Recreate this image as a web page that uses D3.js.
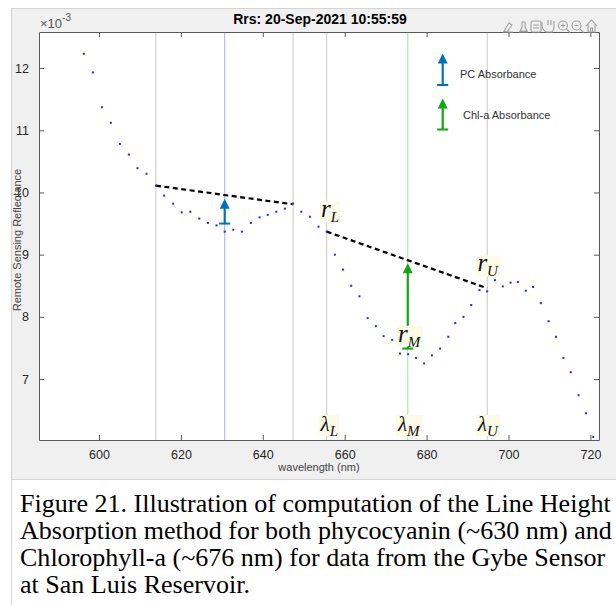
<!DOCTYPE html>
<html>
<head>
<meta charset="utf-8">
<script src="https://cdn.jsdelivr.net/npm/d3@7"></script>
<style>
  body { margin: 0; background: #fff; }
  svg { display: block; }
</style>
</head>
<body>
<svg width="616" height="605"></svg>
<script>
// spectrum (Rrs in units of 1e-3)
var wavelengths = [596.3, 598.5, 600.7, 602.9, 605.1, 607.3, 609.4, 611.6, 613.9, 615.9,
  618.1, 620.2, 622.3, 624.5, 626.6, 628.7, 630.7, 632.8, 634.9, 637.1,
  639.2, 641.2, 643.3, 645.4, 647.4, 649.4, 651.5, 653.6, 655.6, 657.6,
  659.6, 661.6, 663.6, 665.6, 667.6, 669.5, 671.6, 673.5, 675.5, 677.4,
  679.4, 681.3, 683.3, 685.3, 687.0, 689.0, 690.9, 692.9, 694.8, 696.7,
  698.6, 700.5, 702.3, 704.2, 706.0, 707.9, 709.8, 711.6, 713.4, 715.2,
  717.1, 718.9, 720.7];
var rrs = [12.23, 11.93, 11.37, 11.12, 10.78, 10.61, 10.39, 10.30, 10.11, 9.95,
  9.82, 9.68, 9.69, 9.58, 9.51, 9.47, 9.37, 9.40, 9.37, 9.51,
  9.60, 9.64, 9.69, 9.74, 9.82, 9.69, 9.61, 9.45, 9.37, 9.00,
  8.76, 8.50, 8.33, 7.98, 7.85, 7.69, 7.63, 7.41, 7.40, 7.34,
  7.25, 7.38, 7.49, 7.68, 7.90, 8.00, 8.19, 8.43, 8.41, 8.59,
  8.49, 8.55, 8.56, 8.42, 8.48, 8.22, 7.93, 7.68, 7.34, 7.11,
  6.74, 6.45, 6.07];

var xTicks = [600, 620, 640, 660, 680, 700, 720];
var yTicks = [7, 8, 9, 10, 11, 12];

var greyMarkers = [613.9, 647.4, 655.6, 694.8];
var pcMarker = 630.7;
var chlMarker = 675.4;

var pcBaseWl = [613.9, 647.3], pcBaseVal = [10.11, 9.81];
var chlBaseWl = [655.6, 694.8], chlBaseVal = [9.37, 8.46];

var pcArrow = {wl: 630.7, from: 9.50, to: 9.90};
var chlArrow = {wl: 675.4, from: 7.49, to: 8.86};

var rLabels = [{sub: "L", wl: 654.2, val: 9.60}, {sub: "M", wl: 673.0, val: 7.60}, {sub: "U", wl: 692.4, val: 8.73}];
var lambdaLabels = [{sub: "L", wl: 654.1}, {sub: "M", wl: 673.0}, {sub: "U", wl: 692.5}];

var captionLines = [
  "Figure 21. Illustration of computation of the Line Height",
  "Absorption method for both phycocyanin (~630 nm) and",
  "Chlorophyll-a (~676 nm) for data from the Gybe Sensor",
  "at San Luis Reservoir."
];

var svg = d3.select("svg");
var sans = "'Liberation Sans', Arial, Helvetica, sans-serif";
var serif = "'Liberation Serif', 'Times New Roman', serif";
var axisCol = "#5a5a5a", textCol = "#262626";
var pcCol = "#0072BD", chlCol = "#11a611";

// figure panel
svg.append("rect").attr("x", 0).attr("y", 0).attr("width", 616).attr("height", 605).attr("fill", "#fff");
svg.append("rect").attr("x", 11.5).attr("y", 8.5).attr("width", 610).attr("height", 471)
  .attr("fill", "#f0f0f0").attr("stroke", "#d4d4d4");
svg.append("line").attr("x1", 11.5).attr("x2", 11.5).attr("y1", 479).attr("y2", 605).attr("stroke", "#d4d4d4");

var plotL = 39, plotR = 599, plotT = 32, plotB = 440;
var x = d3.scaleLinear().domain([585.35, 722.1]).range([plotL, plotR]);
var y = d3.scaleLinear().domain([6.02, 12.58]).range([plotB, plotT]);

svg.append("rect").attr("x", plotL).attr("y", plotT).attr("width", plotR - plotL).attr("height", plotB - plotT).attr("fill", "#fff");

// vertical marker lines
svg.selectAll(".vline").data(greyMarkers).enter().append("line")
  .attr("x1", function (d) { return x(d); }).attr("x2", function (d) { return x(d); })
  .attr("y1", plotT).attr("y2", plotB).attr("stroke", "#c8c8c8").attr("stroke-width", 1);
svg.append("line").attr("x1", x(pcMarker)).attr("x2", x(pcMarker)).attr("y1", plotT).attr("y2", plotB)
  .attr("stroke", "#a9a9fb").attr("stroke-width", 1);
svg.append("line").attr("x1", x(chlMarker)).attr("x2", x(chlMarker)).attr("y1", plotT).attr("y2", plotB)
  .attr("stroke", "#a6f0a0").attr("stroke-width", 1.2);

// axes (MATLAB style, ticks pointing in, box on)
var gB = svg.append("g").attr("transform", "translate(0," + plotB + ")")
  .call(d3.axisBottom(x).tickValues(xTicks).tickSizeInner(-5).tickSizeOuter(0).tickPadding(10));
var gT = svg.append("g").attr("transform", "translate(0," + plotT + ")")
  .call(d3.axisTop(x).tickValues(xTicks).tickSizeInner(-5).tickSizeOuter(0).tickFormat(""));
var gL = svg.append("g").attr("transform", "translate(" + plotL + ",0)")
  .call(d3.axisLeft(y).tickValues(yTicks).tickFormat(d3.format("d")).tickSizeInner(-5).tickSizeOuter(0).tickPadding(10));
var gR = svg.append("g").attr("transform", "translate(" + plotR + ",0)")
  .call(d3.axisRight(y).tickValues(yTicks).tickSizeInner(-5).tickSizeOuter(0).tickFormat(""));
[gB, gT, gL, gR].forEach(function (g) {
  g.select(".domain").attr("stroke", axisCol);
  g.selectAll(".tick line").attr("stroke", axisCol);
  g.selectAll("text").attr("fill", textCol).style("font-family", sans).style("font-size", "12.5px");
});

// dashed baselines
var line = d3.line().x(function (d) { return x(d[0]); }).y(function (d) { return y(d[1]); });
[[pcBaseWl, pcBaseVal], [chlBaseWl, chlBaseVal]].forEach(function (b) {
  svg.append("path").attr("d", line(d3.zip(b[0], b[1])))
    .attr("fill", "none").attr("stroke", "#000").attr("stroke-width", 2.2).attr("stroke-dasharray", "5,3.5");
});

// spectrum dots
svg.selectAll(".dot").data(d3.zip(wavelengths, rrs)).enter().append("rect")
  .attr("x", function (d) { return x(d[0]) - 1; }).attr("y", function (d) { return y(d[1]) - 1; })
  .attr("width", 2).attr("height", 2).attr("fill", "#2525ff");

// arrow with T base
function arrow(px, yBase, yTip, col) {
  var g = svg.append("g");
  g.append("line").attr("x1", px).attr("x2", px).attr("y1", yBase).attr("y2", yTip + 8)
    .attr("stroke", col).attr("stroke-width", 2.2);
  g.append("line").attr("x1", px - 5.5).attr("x2", px + 5.5).attr("y1", yBase).attr("y2", yBase)
    .attr("stroke", col).attr("stroke-width", 2);
  g.append("path").attr("d", "M" + px + "," + yTip + "L" + (px - 5) + "," + (yTip + 10) + "L" + (px + 5) + "," + (yTip + 10) + "Z")
    .attr("fill", col);
}
arrow(x(pcArrow.wl), y(pcArrow.from), y(pcArrow.to), pcCol);
arrow(x(chlArrow.wl), y(chlArrow.from), y(chlArrow.to), chlCol);

// legend
arrow(442.7, 85, 53.5, pcCol);
arrow(442.7, 129.5, 98.5, chlCol);
svg.append("text").attr("x", 460).attr("y", 77.5).text("PC Absorbance")
  .attr("fill", "#333").style("font-family", sans).style("font-size", "11px");
svg.append("text").attr("x", 463).attr("y", 118.5).text("Chl-a Absorbance")
  .attr("fill", "#333").style("font-family", sans).style("font-size", "11px");

// math labels with pale background
function mathLabel(px, py, main, sub, size) {
  var g = svg.append("g");
  var bg = g.append("rect").attr("fill", "#fbfbe6");
  var t = g.append("text").attr("x", px).attr("y", py).style("font-family", serif).attr("fill", "#111");
  t.append("tspan").text(main).style("font-size", size + "px").style("font-style", "italic");
  t.append("tspan").text(sub).attr("dy", 5).style("font-size", "15px").style("font-style", "italic");
  var bb = t.node().getBBox();
  bg.attr("x", bb.x - 1).attr("y", py - 16).attr("width", bb.width + 2).attr("height", 21);
}
rLabels.forEach(function (d) { mathLabel(x(d.wl), y(d.val), "r", d.sub, 25); });
lambdaLabels.forEach(function (d) { mathLabel(x(d.wl), 431, "\u03bb", d.sub, 21); });

// title and exponent
svg.append("text").attr("x", 320).attr("y", 24).attr("text-anchor", "middle")
  .text("Rrs: 20-Sep-2021 10:55:59").attr("fill", "#000")
  .style("font-family", sans).style("font-size", "14px").style("font-weight", "bold");
var ex = svg.append("text").attr("x", 40).attr("y", 28).attr("fill", "#555").style("font-family", sans);
ex.append("tspan").text("\u00d710").style("font-size", "13px");
ex.append("tspan").text("-3").attr("dy", -7).style("font-size", "10px");

// axis labels
svg.append("text").attr("x", 319).attr("y", 471).attr("text-anchor", "middle")
  .text("wavelength (nm)").attr("fill", "#444").style("font-family", sans).style("font-size", "11px");
svg.append("text").attr("transform", "translate(21,240) rotate(-90)").attr("text-anchor", "middle")
  .text("Remote Sensing Reflectance").attr("fill", "#444").style("font-family", sans).style("font-size", "11px");

// toolbar icons (approximate glyphs)
var tb = svg.append("g").attr("fill", "none").attr("stroke", "#a0a0a0").attr("stroke-width", 1.1);
var icy = 27;
tb.append("path").attr("d", "M504," + (icy + 4) + "l5,-8 l3,2 l-5,7 z M503," + (icy + 5) + "h10");
tb.append("path").attr("d", "M519," + (icy + 5) + "h9 M520," + (icy + 4) + "l2,-4 v-5 h3 v5 l2,4 z");
tb.append("rect").attr("x", 531).attr("y", icy - 6).attr("width", 10).attr("height", 11).attr("rx", 1.5);
tb.append("path").attr("d", "M533," + (icy - 2) + "h6 M533," + (icy + 1) + "h6");
tb.append("path").attr("d", "M546," + (icy + 5) + "c-3,-2 -4,-5 -4,-7 v-3 M546," + (icy + 5) + "h6 c2,-2 2,-5 2,-7 v-4 M548," + (icy - 2) + "v-5 M551," + (icy - 2) + "v-5 M554," + (icy - 1) + "v-4");
[564, 577.5].forEach(function (cx, i) {
  tb.append("circle").attr("cx", cx - 1).attr("cy", icy - 1.5).attr("r", 4.5);
  tb.append("path").attr("d", "M" + (cx + 2.5) + "," + (icy + 2) + "l3.5,3.5");
  tb.append("path").attr("d", "M" + (cx - 3) + "," + (icy - 1.5) + "h4" + (i === 0 ? " M" + (cx - 1) + "," + (icy - 3.5) + "v4" : ""));
});
tb.append("path").attr("d", "M586," + (icy - 1) + "l5.5,-6 l5.5,6 M588," + (icy - 3) + "v8 h7 v-8 M590.5," + (icy + 5) + "v-4 h2 v4");

// caption, fitted to the figure width
var cap = svg.append("g").style("font-family", serif).attr("fill", "#000");
var capSize = 23;
var probe = cap.append("text").style("font-size", capSize + "px").text(captionLines[0]);
capSize = capSize * 591 / probe.node().getComputedTextLength();
probe.remove();
captionLines.forEach(function (s, i) {
  cap.append("text").attr("x", 20).attr("y", 512 + i * 27).style("font-size", capSize + "px").text(s);
});
</script>
</body>
</html>
